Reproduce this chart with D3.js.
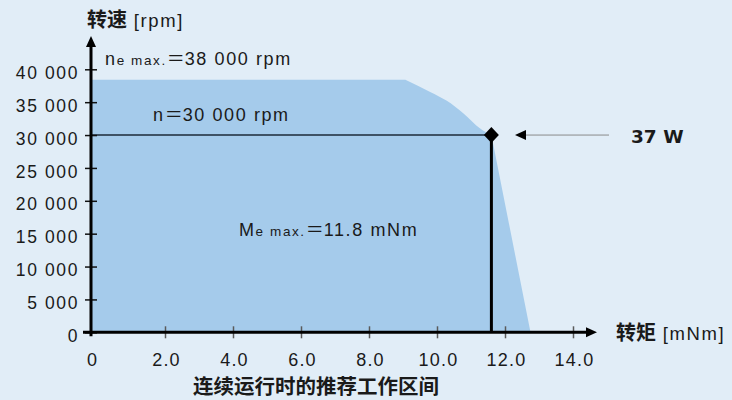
<!DOCTYPE html>
<html><head><meta charset="utf-8">
<script src="https://cdn.jsdelivr.net/npm/d3@7"></script>
<style>
html,body{margin:0;padding:0;background:#e1edf7;}
svg{display:block;}
text{font-family:"Liberation Sans",Arial,sans-serif;fill:#1a1a1a;}
.cjk{font-family:"Noto Sans CJK SC",sans-serif;}
</style></head>
<body>
<script>
// ---- data ----
const yTickValues = [0, 5000, 10000, 15000, 20000, 25000, 30000, 35000, 40000];
const yTickLabels = ["0", "5 000", "10 000", "15 000", "20 000", "25 000", "30 000", "35 000", "40 000"];
const xTickValues = [0, 2, 4, 6, 8, 10, 12, 14];
const xTickLabels = ["0", "2.0", "4.0", "6.0", "8.0", "10.0", "12.0", "14.0"];
// recommended continuous operating range envelope (torque mNm, speed rpm)
const envTorque = [9.07, 9.80, 10.29, 10.78, 11.27, 11.60, 12.75];
const envSpeed  = [38400, 36565, 35198, 33283, 31003, 30000, 0];
const opTorque = 11.6;   // operating point torque
const opSpeed = 30000;   // n = 30 000 rpm
const powerLabel = "37 W";

const W = 732, H = 400;
const LS = "1.6px";
const svg = d3.select("body").append("svg").attr("width", W).attr("height", H);
svg.append("rect").attr("width", W).attr("height", H).attr("fill", "#e1edf7");

const x = d3.scaleLinear().domain([0, 14]).range([97, 573]);
const y = d3.scaleLinear().domain([0, 40000]).range([332.3, 69.3]);
const axisX = 91;

// envelope area: flat top, curved shoulder down to operating point, straight drop to zero
const curvePts = envTorque.slice(0, 6).map((t, i) => [x(t), y(envSpeed[i])]);
const curvePath = d3.line().curve(d3.curveMonotoneX)(curvePts);
const areaD = `M${axisX},${y(envSpeed[0])}L` + curvePath.slice(1) +
  `L${x(envTorque[6])},${y(envSpeed[6])}L${axisX},${y(0)}Z`;
svg.append("path").attr("d", areaD).attr("fill", "#a5cbeb");

// horizontal line at n
svg.append("line").attr("x1", axisX).attr("x2", x(opTorque)).attr("y1", y(opSpeed)).attr("y2", y(opSpeed))
  .attr("stroke", "#1c2a38").attr("stroke-width", 1.5);
// vertical line
svg.append("line").attr("x1", x(opTorque)).attr("x2", x(opTorque)).attr("y1", y(opSpeed)).attr("y2", y(0))
  .attr("stroke", "#000").attr("stroke-width", 3);

// y axis
const yAxis = d3.axisLeft(y).tickValues(yTickValues).tickFormat((d, i) => yTickLabels[i]).tickSize(0);
const gy = svg.append("g").attr("transform", `translate(${axisX},0)`).call(yAxis);
gy.select(".domain").remove();
gy.selectAll(".tick text").attr("x", -12).attr("dy", "0.72em").attr("y", -3.5)
  .style("font-size", "17.5px").style("letter-spacing", LS).attr("fill", "#1a1a1a")
  .style("font-family", "'Liberation Sans',Arial,sans-serif");
gy.selectAll(".tick").append("line").attr("x1", -6).attr("x2", 6).attr("stroke", "#111").attr("stroke-width", 1.5);

// x axis
const xAxis = d3.axisBottom(x).tickValues(xTickValues.slice(1)).tickFormat((d, i) => xTickLabels[i + 1]).tickSize(0);
const gx = svg.append("g").attr("transform", `translate(0,${y(0)})`).call(xAxis);
gx.select(".domain").remove();
gx.selectAll(".tick text").attr("y", 21).attr("dy", "0.72em").attr("x", 1)
  .style("font-size", "18px").style("letter-spacing", "1.2px").attr("fill", "#1a1a1a")
  .style("font-family", "'Liberation Sans',Arial,sans-serif");
gx.selectAll(".tick").append("line").attr("y1", -6).attr("y2", 6).attr("stroke", "#5a5a5a").attr("stroke-width", 1.5);
svg.append("text").attr("x", axisX + 1).attr("y", y(0) + 21).attr("dy", "0.72em").attr("text-anchor", "middle")
  .style("font-size", "18px").text(xTickLabels[0]);

// axis lines + arrows
svg.append("line").attr("x1", axisX).attr("x2", axisX).attr("y1", y(0) + 4).attr("y2", 44).attr("stroke", "#000").attr("stroke-width", 3);
svg.append("path").attr("d", `M${axisX},36L${axisX - 5},47L${axisX + 5},47Z`).attr("fill", "#000");
svg.append("line").attr("x1", 83).attr("x2", 588).attr("y1", y(0)).attr("y2", y(0)).attr("stroke", "#000").attr("stroke-width", 3);
svg.append("path").attr("d", `M597,${y(0)}L586,${y(0) - 5}L586,${y(0) + 5}Z`).attr("fill", "#000");

// diamond marker
const cx = x(opTorque), cy = y(opSpeed);
svg.append("path").attr("d", `M${cx},${cy - 8}L${cx + 7.5},${cy}L${cx},${cy + 8}L${cx - 7.5},${cy}Z`).attr("fill", "#000");

// arrow to power label
svg.append("line").attr("x1", 524).attr("x2", 609).attr("y1", cy).attr("y2", cy).attr("stroke", "#8a8a8a").attr("stroke-width", 1);
svg.append("path").attr("d", `M515,${cy}L526,${cy - 5}L526,${cy + 5}Z`).attr("fill", "#000");
svg.append("text").attr("x", 631).attr("y", cy + 7.5).style("font-family", "'DejaVu Sans',sans-serif")
  .style("font-weight", "bold").style("font-size", "18.5px").attr("fill", "#000").text(powerLabel);

// annotations
function label(xp, yp, parts) {
  const t = svg.append("text").attr("x", xp).attr("y", yp).style("letter-spacing", LS);
  parts.forEach(p => {
    const s = t.append("tspan").style("font-size", p[1] + "px").text(p[0]);
    if (p[2]) s.attr("class", "cjk").style("letter-spacing", "0px");
  });
  return t;
}
label(105, 65, [["n", 18], ["e max.", 13.5], ["\uFF1D", 18, true], ["38 000 rpm", 18]]);
label(153, 121, [["n", 18], ["\uFF1D", 18, true], ["30 000 rpm", 18]]);
label(239, 235.5, [["M", 18], ["e max.", 13.5], ["\uFF1D", 18, true], ["11.8 mNm", 18]]);

// axis titles
const t1 = svg.append("text").attr("x", 87).attr("y", 27);
t1.append("tspan").attr("class", "cjk").style("font-size", "20px").style("font-weight", "bold").text("转速");
t1.append("tspan").style("font-size", "18.5px").style("letter-spacing", LS).text(" [rpm]");
const t2 = svg.append("text").attr("x", 616).attr("y", 340);
t2.append("tspan").attr("class", "cjk").style("font-size", "20px").style("font-weight", "bold").text("转矩");
t2.append("tspan").style("font-size", "18.5px").style("letter-spacing", LS).text(" [mNm]");
svg.append("text").attr("class", "cjk").attr("x", 316).attr("y", 393.5).attr("text-anchor", "middle")
  .style("font-size", "20.5px").style("font-weight", "bold").attr("fill", "#111").text("连续运行时的推荐工作区间");
</script>
</body></html>
